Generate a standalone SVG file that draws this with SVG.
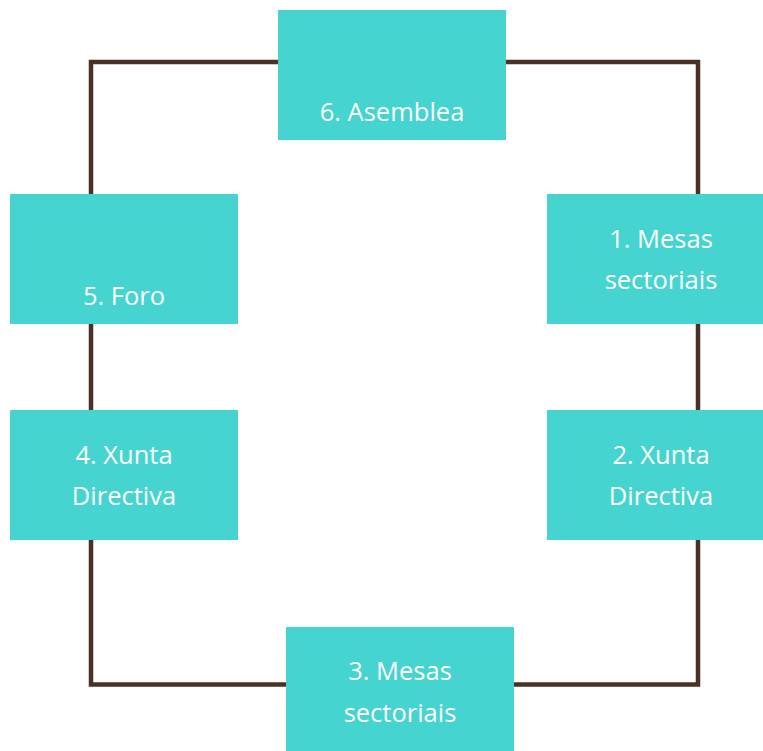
<svg xmlns="http://www.w3.org/2000/svg" width="763" height="751" viewBox="0 0 763 751">
<style>
.box{fill:#45d4cf}
.lbl{fill:#ffffff;font-family:"Open Sans","Liberation Sans",sans-serif;font-size:25.5px;text-anchor:middle}
.conn{fill:none;stroke:#4a3127;stroke-width:4.5;stroke-linejoin:miter}
</style>
<rect width="763" height="751" fill="#ffffff"/>
<g id="connectors">
<path class="conn" d="M91 62 H698 V684.5 H91 Z"/>
</g>
<g id="node6">
<rect class="box" x="278" y="10" width="228" height="130"/>
<text class="lbl" x="392" y="120.5">6. Asemblea</text>
</g>
<g id="node1">
<rect class="box" x="547" y="194" width="228" height="130"/>
<text class="lbl" x="661" y="247.5">1. Mesas</text>
<text class="lbl" x="661" y="289">sectoriais</text>
</g>
<g id="node5">
<rect class="box" x="10" y="194" width="228" height="130"/>
<text class="lbl" x="124" y="305">5. Foro</text>
</g>
<g id="node4">
<rect class="box" x="10" y="410" width="228" height="130"/>
<text class="lbl" x="124" y="464">4. Xunta</text>
<text class="lbl" x="124" y="505">Directiva</text>
</g>
<g id="node2">
<rect class="box" x="547" y="410" width="228" height="130"/>
<text class="lbl" x="661" y="464">2. Xunta</text>
<text class="lbl" x="661" y="505">Directiva</text>
</g>
<g id="node3">
<rect class="box" x="286" y="627" width="228" height="130"/>
<text class="lbl" x="400" y="680">3. Mesas</text>
<text class="lbl" x="400" y="721.5">sectoriais</text>
</g>
</svg>
